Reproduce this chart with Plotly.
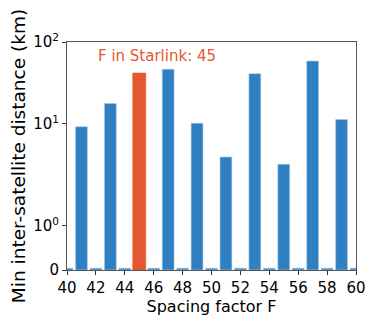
import numpy as np
import plotly.graph_objects as go

# Data
spacing_F = list(range(40, 61))
min_dist_km = [0.04, 9.3, 0.04, 17.6, 0.04, 41.6, 0.04, 46.2, 0.04, 10.1, 0.04,
               4.7, 0.04, 40.9, 0.04, 4.0, 0.04, 58.4, 0.04, 11.2, 0.04]
starlink_F = 45
y_tick_values = [0, 1, 10, 100]
y_tick_labels = ["0", "10<sup>0</sup>", "10<sup>1</sup>", "10<sup>2</sup>"]
x_tick_values = list(range(40, 61, 2))

# Axis scale (symlog-like: linear below 1, log decades above)
LIN = 1.0
DEC1 = 2.311   # span of decade 1..10 in linear units
DEC2 = 1.844   # span of decade 10..100


def scale(v):
    v = np.asarray(v, dtype=float)
    out = np.where(v <= 1, v * LIN,
          np.where(v <= 10, LIN + DEC1 * np.log10(np.maximum(v, 1e-9)),
                   LIN + DEC1 + DEC2 * np.log10(np.maximum(v, 1e-9) / 10)))
    return out


blue = "#2f7fc1"
orange = "#e5572e"
colors = [orange if f == starlink_F else blue for f in spacing_F]
widths = [0.9 if f == starlink_F else 0.82 for f in spacing_F]
line_colors = [orange if f == starlink_F else "#a9cbe8" for f in spacing_F]

fig = go.Figure()
fig.add_trace(go.Bar(
    x=spacing_F, y=scale(min_dist_km), width=widths,
    marker=dict(color=colors, line=dict(color=line_colors, width=0.6)),
    hovertext=[str(v) for v in min_dist_km],
))

fig.add_annotation(
    x=46.2, y=float(scale(100)) - 0.31, xref="x", yref="y",
    text="F in Starlink: 45", showarrow=False,
    font=dict(family="DejaVu Sans", size=15, color=orange),
    xanchor="center", yanchor="middle",
)

axis_common = dict(
    showline=True, linecolor="#555555", linewidth=1, mirror=True,
    ticks="outside", ticklen=4, tickcolor="#333333", tickwidth=1,
    showgrid=False, zeroline=False, automargin=False,
    tickfont=dict(family="DejaVu Sans", size=15, color="black"),
)

fig.update_layout(
    width=374, height=324,
    margin=dict(l=67, r=18, t=42, b=54),
    plot_bgcolor="white", paper_bgcolor="white",
    showlegend=False,
    xaxis=dict(range=[40, 60], tickvals=x_tick_values,
               title=dict(text="Spacing factor F", standoff=4,
                          font=dict(family="DejaVu Sans", size=16, color="black")),
               **axis_common),
    yaxis=dict(range=[0, float(scale(100))],
               tickvals=[float(t) for t in scale(y_tick_values)],
               ticktext=y_tick_labels,
               title=dict(text="Min inter-satellite distance (km)", standoff=2,
                          font=dict(family="DejaVu Sans", size=18.5, color="black")),
               **axis_common),
)

fig.write_html("out.html",
               config={"displayModeBar": False},
               post_script="document.body.style.margin='0';document.body.style.overflow='hidden';")
